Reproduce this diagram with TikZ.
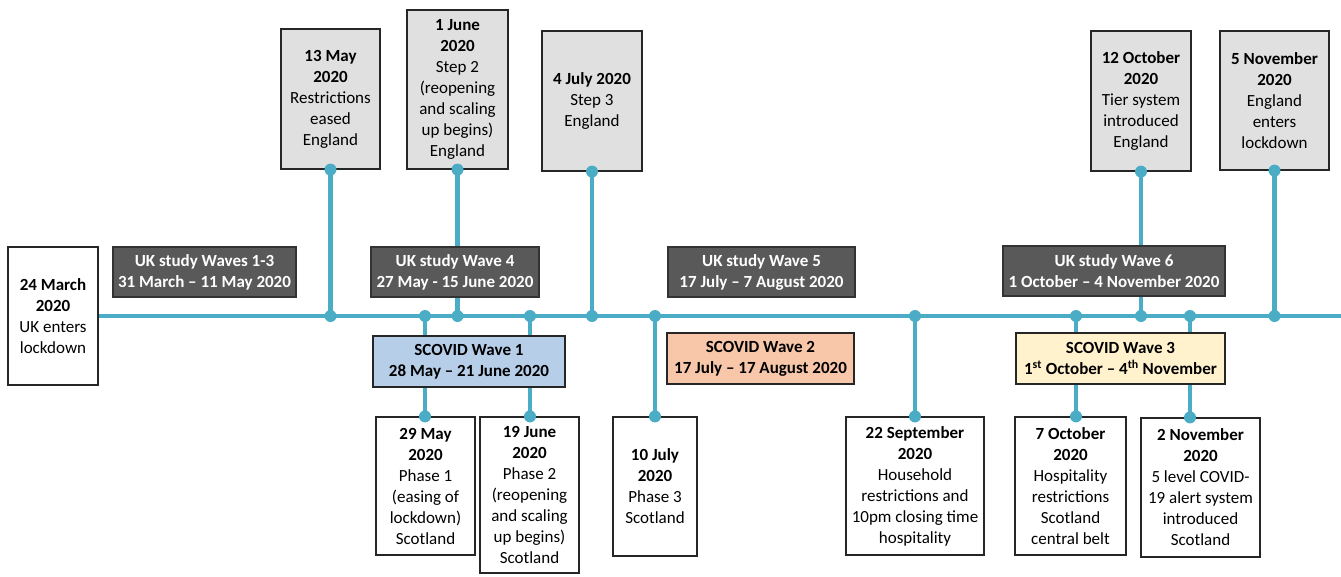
\documentclass[tikz,border=0pt]{standalone}
\usepackage{fontspec}
\setmainfont{Carlito}
\pgfdeclarelayer{bg}
\pgfsetlayers{bg,main}
\definecolor{teal}{HTML}{4BACC6}
\definecolor{boxgray}{HTML}{E0E0E0}
\definecolor{darkgray}{HTML}{595959}
\definecolor{sblue}{HTML}{B7CEE9}
\definecolor{ssalmon}{HTML}{F8C6A9}
\definecolor{syellow}{HTML}{FFF2CC}
\definecolor{edge}{HTML}{262626}
\tikzset{
  base/.style={draw=edge, line width=1.2pt, inner sep=0pt, align=center, anchor=center,
    font=\fontsize{17}{21}\selectfont},
  graybox/.style={base, fill=boxgray},
  whitebox/.style={base, fill=white},
  ukbox/.style={base, draw=black!80, fill=darkgray, text=white, font=\bfseries\fontsize{17}{21}\selectfont},
  scbox/.style={base, font=\bfseries\fontsize{17}{21}\selectfont},
  tline/.style={draw=teal, line width=4.5pt},
  tdot/.style={fill=teal, draw=none}
}
\begin{document}
\begin{tikzpicture}[x=1pt,y=-1pt]
\useasboundingbox (0,0) rectangle (1341,576);
% nodes
\node[whitebox, minimum width=90, minimum height=138] (mar24) at (53,316) {\textbf{24 March}\\\textbf{2020}\\UK enters\\lockdown};
\node[ukbox, minimum width=183, minimum height=50] (w13) at (204.5,272) {UK study Waves 1-3\\31 March – 11 May 2020};
\node[graybox, minimum width=99, minimum height=140] (may13) at (330.5,99) {\textbf{13 May}\\\textbf{2020}\\Restrictions\\eased\\England};
\node[graybox, minimum width=101, minimum height=159] (jun1) at (457.5,89.5) {\textbf{1 June}\\\textbf{2020}\\Step 2\\(reopening\\and scaling\\up begins)\\England};
\node[graybox, minimum width=100, minimum height=140] (jul4) at (592,101) {\textbf{4 July 2020}\\Step 3\\England};
\node[ukbox, minimum width=168, minimum height=50] (w4) at (455,272) {UK study Wave 4\\27 May - 15 June 2020};
\node[ukbox, minimum width=187, minimum height=50] (w5) at (761.5,272) {UK study Wave 5\\17 July – 7 August 2020};
\node[graybox, minimum width=100, minimum height=140] (oct12) at (1141,101) {\textbf{12 October}\\\textbf{2020}\\Tier system\\introduced\\England};
\node[graybox, minimum width=109, minimum height=139] (nov5) at (1274.5,100.5) {\textbf{5 November}\\\textbf{2020}\\England\\enters\\lockdown};
\node[ukbox, minimum width=222, minimum height=50] (w6) at (1114,271) {UK study Wave 6\\1 October – 4 November 2020};
\node[scbox, fill=sblue, minimum width=192, minimum height=51] (s1) at (469,361.5) {SCOVID Wave 1\\28 May – 21 June 2020};
\node[whitebox, minimum width=99, minimum height=138] (may29) at (425.5,486) {\textbf{29 May}\\\textbf{2020}\\Phase 1\\(easing of\\lockdown)\\Scotland};
\node[whitebox, minimum width=99, minimum height=156] (jun19) at (529.5,495) {\textbf{19 June}\\\textbf{2020}\\Phase 2\\(reopening\\and scaling\\up begins)\\Scotland};
\node[whitebox, minimum width=84, minimum height=139] (jul10) at (655,486.5) {\textbf{10 July}\\\textbf{2020}\\Phase 3\\Scotland};
\node[scbox, fill=ssalmon, minimum width=187, minimum height=51] (s2) at (760.5,358.5) {SCOVID Wave 2\\17 July – 17 August 2020};
\node[whitebox, minimum width=138, minimum height=138] (sep22) at (915,486) {\textbf{22 September}\\\textbf{2020}\\Household\\restrictions and\\10pm closing time\\hospitality};
\node[scbox, fill=syellow, minimum width=209, minimum height=51] (s3) at (1120.5,358.5) {SCOVID Wave 3\\1\textsuperscript{st} October – 4\textsuperscript{th} November};
\node[whitebox, minimum width=111, minimum height=138] (oct7) at (1070.5,486) {\textbf{7 October}\\\textbf{2020}\\Hospitality\\restrictions\\Scotland\\central belt};
\node[whitebox, minimum width=119, minimum height=139] (nov2) at (1200.5,487.5) {\textbf{2 November}\\\textbf{2020}\\5 level COVID-\\19 alert system\\introduced\\Scotland};
% coordinates on the main line
\coordinate (main) at (0,316);
\coordinate (lineend) at (1341,316);
\coordinate (p29) at (425,316);
\coordinate (p19) at (530,316);
\coordinate (p10) at (655,316);
\coordinate (p22) at (915,316);
\coordinate (p7) at (1076,316);
\coordinate (p2) at (1190,316);
\begin{pgfonlayer}{bg}
\draw[tline] (mar24.east |- main) -- (lineend);
\foreach \n in {may13,jun1,jul4,oct12,nov5}{
  \draw[tline] (\n.south) -- (\n.south |- main);
}
\draw[tline] (p29) -- (p29 |- may29.north);
\draw[tline] (p19) -- (p19 |- jun19.north);
\draw[tline] (p10) -- (p10 |- jul10.north);
\draw[tline] (p22) -- (p22 |- sep22.north);
\draw[tline] (p7) -- (p7 |- oct7.north);
\draw[tline] (p2) -- (p2 |- nov2.north);
\end{pgfonlayer}
% dots
\foreach \n in {may13,jun1,jul4,oct12,nov5}{
  \fill[tdot] (\n.south) circle (6);
  \fill[tdot] (\n.south |- main) circle (6);
}
\fill[tdot] (p29) circle (6); \fill[tdot] (p29 |- may29.north) circle (6);
\fill[tdot] (p19) circle (6); \fill[tdot] (p19 |- jun19.north) circle (6);
\fill[tdot] (p10) circle (6); \fill[tdot] (p10 |- jul10.north) circle (6);
\fill[tdot] (p22) circle (6); \fill[tdot] (p22 |- sep22.north) circle (6);
\fill[tdot] (p7) circle (6); \fill[tdot] (p7 |- oct7.north) circle (6);
\fill[tdot] (p2) circle (6); \fill[tdot] (p2 |- nov2.north) circle (6);
\end{tikzpicture}
\end{document}
